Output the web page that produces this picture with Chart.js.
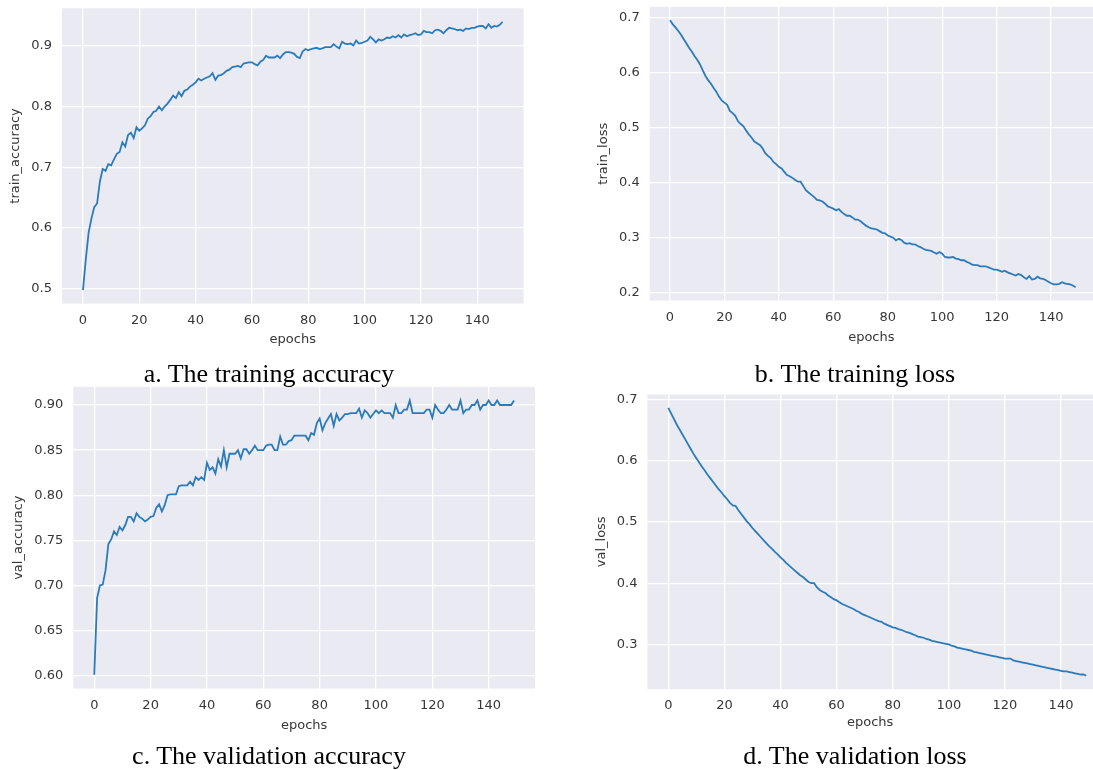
<!DOCTYPE html>
<html>
<head>
<meta charset="utf-8">
<script src="https://cdn.jsdelivr.net/npm/chart.js@4.4.0/dist/chart.umd.min.js"></script>
<style>
  body { margin: 0; background: #fff; width: 1093px; height: 770px; overflow: hidden; position: relative; }
  .panel { position: absolute; }
  .caption {
    position: absolute;
    font-family: "Liberation Serif", "Times New Roman", serif;
    font-size: 26px;
    line-height: 1;
    color: #000;
    white-space: nowrap;
    transform: translate(-50%, -50%);
  }
</style>
</head>
<body>
<div class="panel" style="left:0;top:0;width:545px;height:360px"><canvas id="train-acc"></canvas></div>
<div class="panel" style="left:545px;top:0;width:548px;height:360px"><canvas id="train-loss"></canvas></div>
<div class="panel" style="left:0;top:385px;width:545px;height:360px"><canvas id="val-acc"></canvas></div>
<div class="panel" style="left:545px;top:385px;width:548px;height:360px"><canvas id="val-loss"></canvas></div>

<div class="caption" style="left:269px;top:374px">a. The training accuracy</div>
<div class="caption" style="left:855px;top:374px">b. The training loss</div>
<div class="caption" style="left:269px;top:756px">c. The validation accuracy</div>
<div class="caption" style="left:855px;top:756px">d. The validation loss</div>

<script>
// ---- data (one value per epoch, 0..149) ----
const trainAcc = [
  0.497, 0.548, 0.592, 0.615, 0.634, 0.640, 0.676, 0.697, 0.694, 0.705,
  0.703, 0.713, 0.722, 0.725, 0.741, 0.734, 0.753, 0.757, 0.748, 0.766,
  0.760, 0.764, 0.769, 0.780, 0.784, 0.791, 0.793, 0.800, 0.794, 0.800,
  0.805, 0.811, 0.818, 0.814, 0.824, 0.817, 0.826, 0.828, 0.833, 0.836,
  0.840, 0.846, 0.843, 0.846, 0.848, 0.850, 0.855, 0.844, 0.851, 0.852,
  0.855, 0.859, 0.861, 0.865, 0.866, 0.867, 0.865, 0.871, 0.872, 0.873,
  0.873, 0.870, 0.868, 0.874, 0.877, 0.884, 0.881, 0.881, 0.881, 0.884,
  0.880, 0.886, 0.890, 0.890, 0.889, 0.887, 0.882, 0.880, 0.891, 0.895,
  0.893, 0.895, 0.896, 0.897, 0.895, 0.896, 0.898, 0.898, 0.898, 0.903,
  0.899, 0.896, 0.907, 0.904, 0.903, 0.904, 0.901, 0.909, 0.904, 0.905,
  0.907, 0.909, 0.915, 0.911, 0.906, 0.911, 0.909, 0.911, 0.914, 0.913,
  0.916, 0.914, 0.918, 0.914, 0.919, 0.916, 0.918, 0.919, 0.921, 0.918,
  0.919, 0.925, 0.923, 0.923, 0.921, 0.926, 0.927, 0.925, 0.921, 0.926,
  0.930, 0.929, 0.928, 0.926, 0.927, 0.925, 0.929, 0.928, 0.930, 0.930,
  0.932, 0.933, 0.933, 0.929, 0.936, 0.930, 0.933, 0.932, 0.935, 0.940
];

const trainLoss = [
  0.696, 0.689, 0.683, 0.677, 0.670, 0.662, 0.654, 0.646, 0.639, 0.631,
  0.624, 0.616, 0.605, 0.595, 0.587, 0.581, 0.573, 0.566, 0.557, 0.550,
  0.546, 0.542, 0.531, 0.527, 0.522, 0.512, 0.507, 0.503, 0.495, 0.488,
  0.482, 0.475, 0.472, 0.469, 0.463, 0.454, 0.449, 0.445, 0.438, 0.434,
  0.429, 0.426, 0.420, 0.414, 0.412, 0.409, 0.405, 0.402, 0.402, 0.394,
  0.386, 0.382, 0.378, 0.374, 0.369, 0.368, 0.366, 0.362, 0.357, 0.355,
  0.353, 0.350, 0.352, 0.347, 0.343, 0.340, 0.340, 0.337, 0.333, 0.333,
  0.330, 0.326, 0.322, 0.319, 0.317, 0.316, 0.315, 0.312, 0.309, 0.308,
  0.304, 0.302, 0.300, 0.295, 0.298, 0.296, 0.291, 0.289, 0.290, 0.288,
  0.288, 0.285, 0.283, 0.280, 0.278, 0.277, 0.276, 0.273, 0.271, 0.274,
  0.271, 0.265, 0.264, 0.264, 0.265, 0.262, 0.261, 0.259, 0.259, 0.256,
  0.254, 0.251, 0.250, 0.250, 0.248, 0.248, 0.248, 0.246, 0.244, 0.242,
  0.242, 0.240, 0.238, 0.240, 0.237, 0.235, 0.233, 0.231, 0.234, 0.232,
  0.228, 0.225, 0.230, 0.224, 0.225, 0.229, 0.226, 0.225, 0.223, 0.220,
  0.217, 0.215, 0.215, 0.216, 0.219, 0.217, 0.216, 0.215, 0.213, 0.210
];

const valAcc = [
  0.601, 0.686, 0.700, 0.701, 0.717, 0.746, 0.751, 0.760, 0.756, 0.765,
  0.761, 0.767, 0.776, 0.776, 0.771, 0.780, 0.776, 0.774, 0.771, 0.773,
  0.776, 0.777, 0.786, 0.790, 0.782, 0.789, 0.800, 0.801, 0.801, 0.801,
  0.810, 0.811, 0.811, 0.811, 0.815, 0.811, 0.820, 0.817, 0.820, 0.817,
  0.836, 0.828, 0.831, 0.824, 0.840, 0.832, 0.850, 0.831, 0.846, 0.846,
  0.846, 0.850, 0.841, 0.851, 0.851, 0.846, 0.850, 0.855, 0.850, 0.850,
  0.850, 0.855, 0.856, 0.856, 0.850, 0.850, 0.865, 0.856, 0.856, 0.860,
  0.861, 0.866, 0.866, 0.866, 0.866, 0.866, 0.861, 0.869, 0.867, 0.880,
  0.885, 0.872, 0.880, 0.885, 0.890, 0.877, 0.890, 0.883, 0.886, 0.890,
  0.890, 0.891, 0.891, 0.891, 0.896, 0.886, 0.894, 0.891, 0.886, 0.890,
  0.894, 0.891, 0.894, 0.891, 0.891, 0.891, 0.886, 0.900, 0.891, 0.891,
  0.895, 0.895, 0.905, 0.891, 0.891, 0.891, 0.891, 0.891, 0.895, 0.895,
  0.886, 0.900, 0.895, 0.891, 0.891, 0.895, 0.900, 0.895, 0.895, 0.895,
  0.905, 0.891, 0.895, 0.895, 0.900, 0.900, 0.905, 0.895, 0.900, 0.900,
  0.905, 0.900, 0.900, 0.905, 0.900, 0.900, 0.900, 0.900, 0.900, 0.905
];

const valLoss = [
  0.686, 0.677, 0.668, 0.659, 0.651, 0.643, 0.635, 0.627, 0.619, 0.611,
  0.604, 0.597, 0.590, 0.584, 0.577, 0.571, 0.565, 0.559, 0.553, 0.548,
  0.542, 0.537, 0.531, 0.527, 0.526, 0.519, 0.513, 0.507, 0.501, 0.496,
  0.490, 0.485, 0.480, 0.475, 0.470, 0.465, 0.460, 0.456, 0.451, 0.447,
  0.442, 0.438, 0.433, 0.429, 0.425, 0.421, 0.417, 0.413, 0.410, 0.406,
  0.402, 0.400, 0.400, 0.393, 0.389, 0.386, 0.384, 0.380, 0.377, 0.374,
  0.372, 0.369, 0.366, 0.364, 0.362, 0.360, 0.358, 0.355, 0.353, 0.350,
  0.348, 0.346, 0.344, 0.342, 0.340, 0.338, 0.337, 0.334, 0.332, 0.330,
  0.328, 0.327, 0.325, 0.324, 0.322, 0.320, 0.319, 0.317, 0.315, 0.313,
  0.312, 0.311, 0.309, 0.308, 0.306, 0.305, 0.304, 0.303, 0.302, 0.301,
  0.300, 0.298, 0.297, 0.295, 0.294, 0.293, 0.292, 0.291, 0.290, 0.288,
  0.287, 0.286, 0.285, 0.284, 0.283, 0.282, 0.281, 0.280, 0.279, 0.278,
  0.277, 0.277, 0.277, 0.274, 0.273, 0.272, 0.271, 0.270, 0.269, 0.268,
  0.267, 0.266, 0.265, 0.264, 0.263, 0.262, 0.261, 0.260, 0.259, 0.258,
  0.257, 0.256, 0.256, 0.255, 0.254, 0.253, 0.252, 0.251, 0.251, 0.249
];

// tick labels
const epochTicks = [0, 20, 40, 60, 80, 100, 120, 140];
const accTicks = [0.5, 0.6, 0.7, 0.8, 0.9];
const trainLossTicks = [0.2, 0.3, 0.4, 0.5, 0.6, 0.7];
const valAccTicks = [0.60, 0.65, 0.70, 0.75, 0.80, 0.85, 0.90];
const valLossTicks = [0.3, 0.4, 0.5, 0.6, 0.7];

const epochs = trainAcc.map((_, i) => i);

// seaborn-ish look
const LINE = "#2b7bba";
const TEXT = "#363636";
const FONT = "'DejaVu Sans', sans-serif";

// grey plot background behind the grid
const plotBg = {
  id: "plotBg",
  beforeDraw(chart) {
    const { ctx, chartArea: a } = chart;
    ctx.save();
    ctx.fillStyle = "#eaeaf2";
    ctx.fillRect(a.left, a.top, a.right - a.left, a.bottom - a.top);
    ctx.restore();
  },
};

function makeChart(id, values, yTicks, decimals, yLabel, g) {
  const points = values.map((v, i) => ({ x: epochs[i], y: v }));
  return new Chart(document.getElementById(id), {
    type: "line",
    data: {
      datasets: [
        {
          data: points,
          borderColor: LINE,
          borderWidth: 1.8,
          pointRadius: 0,
          tension: 0,
        },
      ],
    },
    options: {
      responsive: true,
      maintainAspectRatio: false,
      animation: false,
      events: [],
      layout: { padding: { left: 0, top: g.top, right: g.right, bottom: 0 } },
      plugins: { legend: { display: false }, tooltip: { enabled: false } },
      scales: {
        x: {
          type: "linear",
          min: -7.45,
          max: g.xMax,
          afterBuildTicks: (s) => { s.ticks = epochTicks.map((v) => ({ value: v })); },
          afterFit: (s) => {
            s.height = g.xH;
            s.paddingLeft = 0;
            s.paddingRight = 0;
          },
          grid: { color: "#ffffff", lineWidth: 1.3, drawTicks: false },
          border: { display: false },
          ticks: { color: TEXT, font: { family: FONT, size: 13 }, padding: 9, maxRotation: 0 },
          title: {
            display: true,
            text: "epochs",
            color: TEXT,
            font: { family: FONT, size: 13 },
            padding: { top: 0, bottom: g.xTitlePad },
          },
        },
        y: {
          min: g.yMin,
          max: g.yMax,
          afterBuildTicks: (s) => { s.ticks = yTicks.map((v) => ({ value: v })); },
          afterFit: (s) => {
            s.width = g.yW;
            s.paddingTop = 0;
            s.paddingBottom = 0;
          },
          grid: { color: "#ffffff", lineWidth: 1.3, drawTicks: false },
          border: { display: false },
          ticks: {
            color: TEXT,
            font: { family: FONT, size: 13 },
            padding: 10,
            callback: (v) => Number(v).toFixed(decimals),
          },
          title: {
            display: true,
            text: yLabel,
            color: TEXT,
            font: { family: FONT, size: 13 },
            padding: { top: g.yTitlePad, bottom: 0 },
          },
        },
      },
    },
    plugins: [plotBg],
  });
}

makeChart("train-acc", trainAcc, accTicks, 1, "train_accuracy", {
  top: 8.3, right: 21.4, yW: 62, xH: 56.4, xMax: 156.45,
  yMin: 0.4748, yMax: 0.9622, yTitlePad: 7.7, xTitlePad: 12.2,
});

makeChart("train-loss", trainLoss, trainLossTicks, 1, "train_loss", {
  top: 6.9, right: 0, yW: 104.7, xH: 59.5, xMax: 155.4,
  yMin: 0.1857, yMax: 0.7203, yTitlePad: 50.7, xTitlePad: 14.2,
});

makeChart("val-acc", valAcc, valAccTicks, 2, "val_accuracy", {
  top: 1.8, right: 10, yW: 73.3, xH: 56.5, xMax: 156.45,
  yMin: 0.5858, yMax: 0.9202, yTitlePad: 11.2, xTitlePad: 11.2,
});

makeChart("val-loss", valLoss, valLossTicks, 1, "val_loss", {
  top: 9.5, right: 0, yW: 102.4, xH: 55.9, xMax: 151.4,
  yMin: 0.2272, yMax: 0.7079, yTitlePad: 48.9, xTitlePad: 14.2,
});
</script>
</body>
</html>
